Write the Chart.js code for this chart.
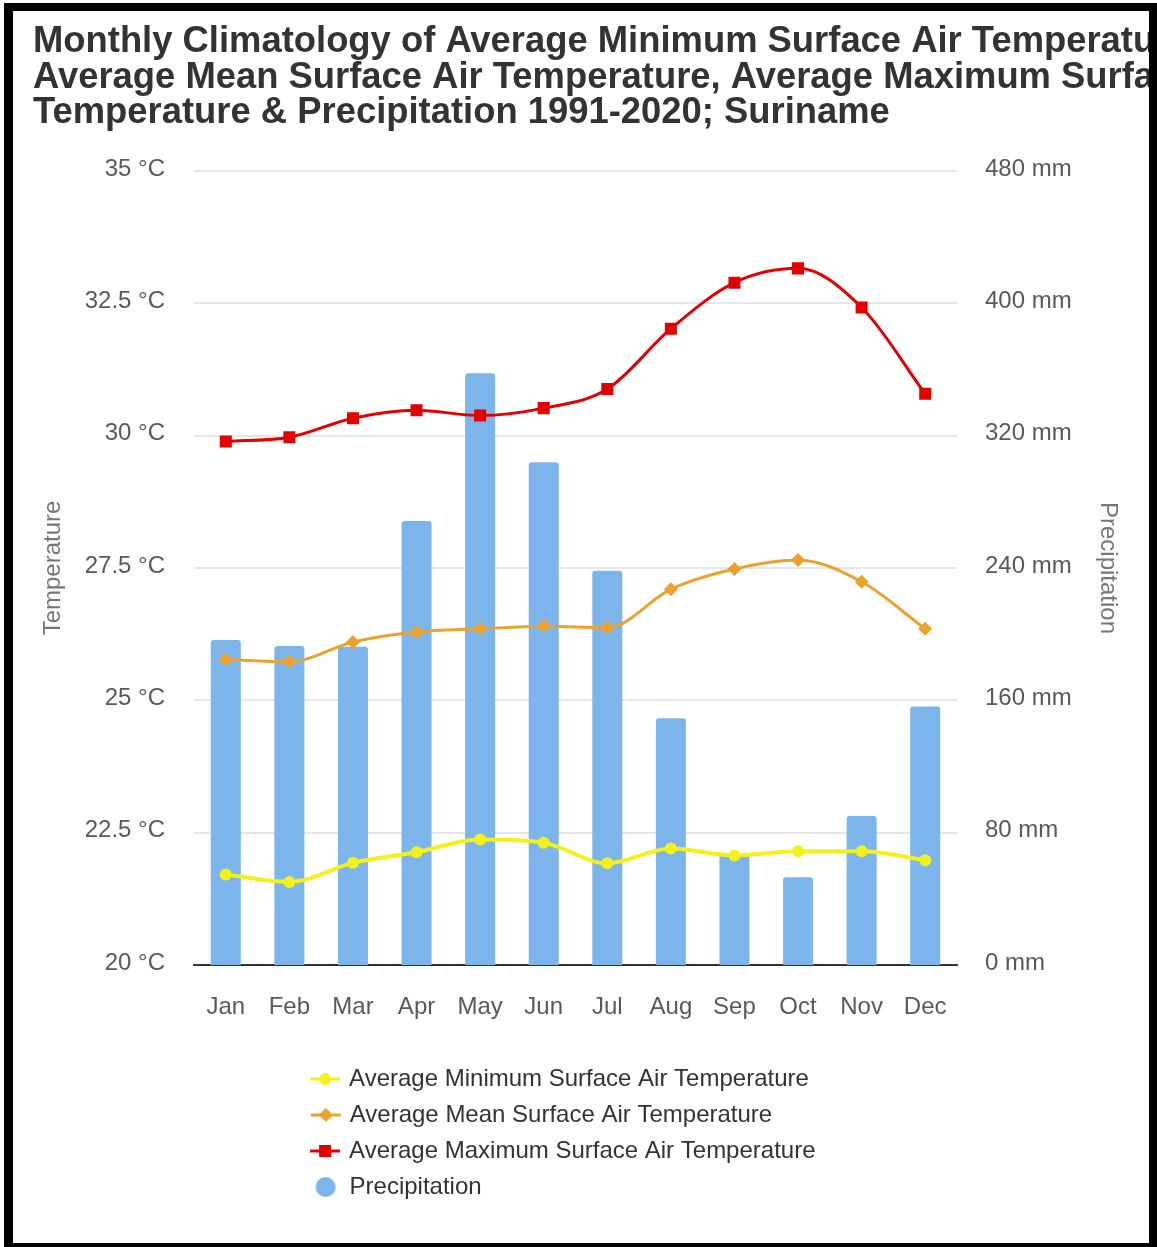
<!DOCTYPE html>
<html>
<head>
<meta charset="utf-8">
<script src="https://cdn.jsdelivr.net/npm/chart.js@4.4.1/dist/chart.umd.min.js"></script>
<style>
  html, body { margin: 0; padding: 0; background: #fff; }
  #frame {
    position: absolute; left: 4px; top: 3px;
    width: 1136px; height: 1232px;
    border-style: solid; border-color: #000;
    border-width: 8px 8px 4px 9px;
    background: #fff;
  }
  #clip { position: absolute; left: 20px; top: 0; width: 1116px; height: 1232px; overflow: hidden; }
  canvas { display: block; }
</style>
</head>
<body>
<div id="frame"><div id="clip"><canvas id="chart" width="1300" height="1232"></canvas></div></div>
<script>
// Monthly climatology 1991-2020, Suriname
const months = ['Jan', 'Feb', 'Mar', 'Apr', 'May', 'Jun', 'Jul', 'Aug', 'Sep', 'Oct', 'Nov', 'Dec'];
const minTemp = [21.71, 21.57, 21.93, 22.13, 22.37, 22.31, 21.92, 22.20, 22.07, 22.15, 22.15, 21.98];
const meanTemp = [25.77, 25.73, 26.10, 26.29, 26.35, 26.40, 26.37, 27.10, 27.48, 27.65, 27.24, 26.35];
const maxTemp = [29.89, 29.97, 30.33, 30.48, 30.38, 30.52, 30.88, 32.02, 32.89, 33.16, 32.42, 30.79];
const precipitation = [196.5, 192.9, 192.4, 268.4, 357.7, 303.9, 238.4, 149.2, 66.5, 53.0, 90.1, 156.2];

const seriesNames = [
  'Average Minimum Surface Air Temperature',
  'Average Mean Surface Air Temperature',
  'Average Maximum Surface Air Temperature',
  'Precipitation'
];
const titleLines = [
  'Monthly Climatology of Average Minimum Surface Air Temperature,',
  'Average Mean Surface Air Temperature, Average Maximum Surface Air',
  'Temperature & Precipitation 1991-2020; Suriname'
];
const tempAxisTitle = 'Temperature';
const precipAxisTitle = 'Precipitation';

const colors = { min: '#f2f21a', mean: '#eca12c', max: '#e40000', precip: '#7cb5ec' };
const FAMILY = "'Liberation Sans', Arial, sans-serif";
Chart.defaults.font.family = FAMILY;

// Legend symbols: a short line segment with the series marker, or a dot for the bars
function lineIcon(color, marker) {
  const c = document.createElement('canvas');
  c.width = 32; c.height = 22;
  const g = c.getContext('2d');
  g.strokeStyle = color; g.fillStyle = color; g.lineWidth = 3;
  g.beginPath(); g.moveTo(1, 11); g.lineTo(31, 11); g.stroke();
  g.beginPath();
  if (marker === 'circle') g.arc(16, 11, 6, 0, Math.PI * 2);
  else if (marker === 'diamond') { g.moveTo(16, 4); g.lineTo(23, 11); g.lineTo(16, 18); g.lineTo(9, 11); g.closePath(); }
  else g.rect(10, 5, 12, 12);
  g.fill();
  return c;
}
function dotIcon(color) {
  const c = document.createElement('canvas');
  c.width = 22; c.height = 22;
  const g = c.getContext('2d');
  g.fillStyle = color;
  g.beginPath(); g.arc(11, 11, 10, 0, Math.PI * 2); g.fill();
  return c;
}
const legendIcons = [
  lineIcon(colors.min, 'circle'),
  lineIcon(colors.mean, 'diamond'),
  lineIcon(colors.max, 'square'),
  dotIcon(colors.precip)
];

// Every legend entry gets the same width so the entries stack in one left-aligned column
const measureCtx = document.createElement('canvas').getContext('2d');
measureCtx.font = 'normal 24px ' + FAMILY;
function padLabel(text, target) {
  let s = text;
  while (measureCtx.measureText(s + ' ').width <= target) s += ' ';
  let w = measureCtx.measureText(s).width;
  for (let i = 0; i < 20; i++) {
    const w2 = measureCtx.measureText(s + '\u200A').width;
    if (w2 <= w || w2 > target) break;
    s += '\u200A'; w = w2;
  }
  return s;
}

const fixedWidth = (w) => (scale) => { scale.width = w; };

new Chart(document.getElementById('chart'), {
  data: {
    labels: months,
    datasets: [
      {
        type: 'line', label: seriesNames[0], data: minTemp, yAxisID: 'y', order: 1,
        borderColor: colors.min, backgroundColor: colors.min, borderWidth: 4,
        pointStyle: 'circle', pointRadius: 6, pointBorderWidth: 0,
        cubicInterpolationMode: 'monotone', fill: false
      },
      {
        type: 'line', label: seriesNames[1], data: meanTemp, yAxisID: 'y', order: 2,
        borderColor: colors.mean, backgroundColor: colors.mean, borderWidth: 3,
        pointStyle: 'rectRot', pointRadius: 7, pointBorderWidth: 0,
        cubicInterpolationMode: 'monotone', fill: false
      },
      {
        type: 'line', label: seriesNames[2], data: maxTemp, yAxisID: 'y', order: 3,
        borderColor: colors.max, backgroundColor: colors.max, borderWidth: 3,
        pointStyle: 'rect', pointRadius: 8.5, pointBorderWidth: 0,
        cubicInterpolationMode: 'monotone', fill: false
      },
      {
        type: 'bar', label: seriesNames[3], data: precipitation, yAxisID: 'y2', order: 4,
        backgroundColor: colors.precip, borderWidth: 0,
        borderRadius: { topLeft: 3, topRight: 3, bottomLeft: 0, bottomRight: 0 },
        borderSkipped: 'bottom',
        barPercentage: 0.472, categoryPercentage: 1.0
      }
    ]
  },
  options: {
    responsive: false,
    animation: false,
    events: [],
    layout: { padding: { top: 0, left: 0, right: 0, bottom: 34 } },
    plugins: {
      tooltip: { enabled: false },
      title: {
        display: true,
        text: titleLines,
        align: 'start',
        color: '#333333',
        font: { size: 36.4, weight: 'bold', lineHeight: 0.975 },
        padding: { top: 13.5, bottom: 40 }
      },
      legend: {
        position: 'bottom',
        align: 'center',
        labels: {
          usePointStyle: true,
          boxWidth: 24,
          boxHeight: 24,
          padding: 12,
          color: '#333333',
          font: { size: 24 },
          generateLabels: (chart) => chart.data.datasets.map((ds, i) => ({
            text: padLabel(ds.label, 704),
            fillStyle: ds.backgroundColor,
            strokeStyle: ds.backgroundColor,
            lineWidth: 0,
            pointStyle: legendIcons[i],
            hidden: false,
            datasetIndex: i,
            fontColor: '#333333'
          }))
        }
      }
    },
    scales: {
      x: {
        type: 'category',
        offset: true,
        grid: { display: false, drawTicks: false },
        border: { display: true, color: '#333333', width: 2 },
        ticks: { color: '#595959', font: { size: 24 }, padding: 27.6, maxRotation: 0, autoSkip: false },
        afterFit: (scale) => { scale.height = 90; }
      },
      y: {
        position: 'left',
        min: 20, max: 35,
        grid: { color: '#e6e6e6', lineWidth: 2, drawTicks: false },
        border: { display: false },
        ticks: {
          stepSize: 2.5, padding: 29, color: '#595959', font: { size: 24 }, labelOffset: -2,
          callback: (v) => (Math.round(v * 10) / 10) + ' °C'
        },
        title: { display: true, text: tempAxisTitle, color: '#777777', font: { size: 24 }, padding: { top: 6, bottom: 0 } },
        afterFit: fixedWidth(161)
      },
      y2: {
        position: 'right',
        min: 0, max: 480,
        grid: { display: false, drawTicks: false },
        border: { display: false },
        ticks: {
          stepSize: 80, padding: 28, color: '#595959', font: { size: 24 }, labelOffset: -2,
          callback: (v) => v + ' mm'
        },
        title: { display: true, text: precipAxisTitle, color: '#777777', font: { size: 24 }, padding: { top: 211, bottom: 0 } },
        afterFit: fixedWidth(376)
      }
    }
  }
});
</script>
</body>
</html>
